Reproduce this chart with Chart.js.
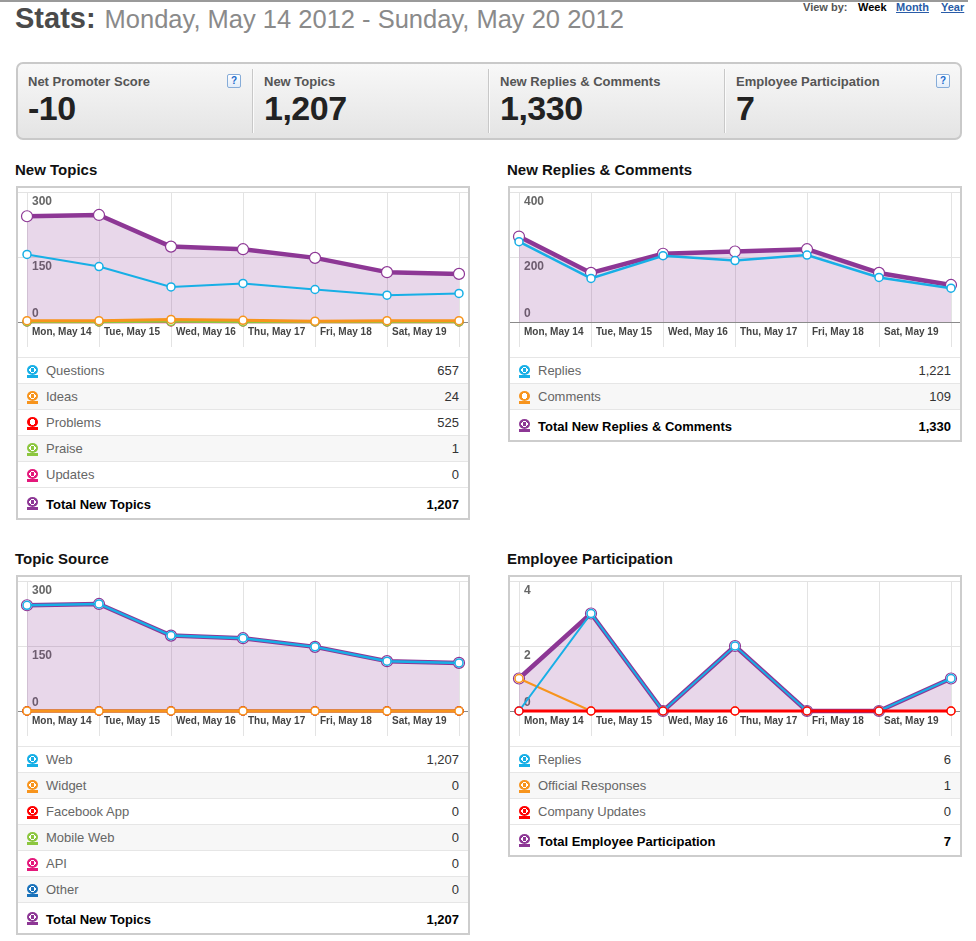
<!DOCTYPE html>
<html>
<head>
<meta charset="utf-8">
<title>Stats</title>
<script src="https://cdn.jsdelivr.net/npm/chart.js@4.4.1/dist/chart.umd.min.js"></script>
<style>
  body { margin:0; width:976px; height:941px; position:relative; background:#fff; overflow:hidden;
         font-family:"Liberation Sans", Arial, Helvetica, sans-serif; }
  #topline { position:absolute; left:0; top:0; width:968px; height:2px; background:#9a9a9a; }
  #title { position:absolute; left:15px; top:4px; line-height:28px; white-space:nowrap; }
  #title b { font-size:29px; color:#4a4a4a; }
  #title span { font-size:25.5px; color:#8a8a8a; margin-left:9px; }
  .vb { position:absolute; top:1px; font-size:11px; font-weight:bold; line-height:13px; color:#555; }
  .vb.on { color:#000; }
  .vb.lnk { color:#2a5ca8; text-decoration:underline; }

  #stats { position:absolute; left:16px; top:62px; width:942px; height:74px; border:2px solid #c9c9c9;
           border-radius:7px; background:linear-gradient(#f8f8f8, #e4e4e4); }
  .slabel { position:absolute; top:10px; font-size:13px; font-weight:bold; color:#555; line-height:16px; white-space:nowrap; }
  .sval { position:absolute; top:26px; font-size:34px; font-weight:bold; color:#222; line-height:36px; letter-spacing:-0.5px; }
  .sdiv { position:absolute; top:5px; width:1px; height:64px; background:#c8c8c8; box-shadow:1px 0 0 #fbfbfb; }
  .help { position:absolute; top:10px; width:12px; height:12px; border:1px solid #86acd8; border-radius:2px;
          background:linear-gradient(#ffffff, #e2edf9); color:#1a6acb; font-size:10px; font-weight:bold;
          line-height:12px; text-align:center; }

  .ptitle { position:absolute; font-size:15px; font-weight:bold; color:#111; line-height:18px; }
  .box { position:absolute; width:450px; border:2px solid #cdcdcd; background:#fff; }
  .cv { position:relative; width:450px; height:169px; }
  .row { position:relative; height:25px; border-top:1px solid #e6e6e6; font-size:13px; line-height:25px; color:#666; }
  .row.alt { background:#f7f7f7; }
  .row .name { position:absolute; left:28px; top:0; }
  .row .val { position:absolute; right:9px; top:0; color:#333; }
  .row.total { height:30px; line-height:30px; font-weight:bold; color:#000; }
  .row.total .name, .row.total .val { top:2px; color:#000; }
  .ic { position:absolute; left:9px; top:7px; width:11px; height:13px; }
  .row.total .ic { top:9px; }
  .ic::before { content:""; position:absolute; left:0; top:0; width:11px; height:10px; border-radius:50%;
                background:radial-gradient(circle closest-side, var(--c) 0 38%, #fff 38% 64%, var(--c) 64%); }
  .ic.off::before { background:radial-gradient(circle closest-side, #fff 0 56%, var(--c) 56%); }
  .ic::after { content:""; position:absolute; left:0; top:10px; width:11px; height:3px; background:var(--c); }
</style>
</head>
<body>
<div id="topline"></div>
<div id="title"><b>Stats:</b><span>Monday, May 14 2012 - Sunday, May 20 2012</span></div>
<span class="vb" style="left:803px">View by:</span>
<span class="vb on" style="left:858px">Week</span>
<span class="vb lnk" style="left:896px">Month</span>
<span class="vb lnk" style="left:941px">Year</span>

<div id="stats"></div>

<div class="ptitle" style="left:15px; top:161px">New Topics</div>
<div class="box" id="b1" style="left:16px; top:186px"><div class="cv"><canvas id="c1"></canvas></div></div>

<div class="ptitle" style="left:507px; top:161px">New Replies &amp; Comments</div>
<div class="box" id="b2" style="left:508px; top:186px"><div class="cv"><canvas id="c2"></canvas></div></div>

<div class="ptitle" style="left:15px; top:550px">Topic Source</div>
<div class="box" id="b3" style="left:16px; top:575px"><div class="cv"><canvas id="c3"></canvas></div></div>

<div class="ptitle" style="left:507px; top:550px">Employee Participation</div>
<div class="box" id="b4" style="left:508px; top:575px"><div class="cv"><canvas id="c4"></canvas></div></div>

<script>
// days of the week shown on the x axis (Sunday has no label)
var days = ['Mon, May 14', 'Tue, May 15', 'Wed, May 16', 'Thu, May 17', 'Fri, May 18', 'Sat, May 19', 'Sun, May 20'];

// summary boxes
var statNames = ['Net Promoter Score', 'New Topics', 'New Replies & Comments', 'Employee Participation'];
var statValues = ['-10', '1,207', '1,330', '7'];

// New Topics, per day
var topicQuestions = [156, 128, 81, 89, 75, 62, 66];
var topicIdeas = [3, 3, 6, 4, 2, 3, 3];
var topicPraise = [0, 0, 1, 0, 0, 0, 0];
var topicUpdates = [0, 0, 0, 0, 0, 0, 0];
var topicTotal = [244, 247, 174, 168, 148, 115, 111];
var topicNames = ['Questions', 'Ideas', 'Problems', 'Praise', 'Updates'];
var topicCounts = [657, 24, 525, 1, 0];
var topicShown = [true, true, false, true, true];

// New Replies & Comments, per day
var repliesDaily = [247, 134, 204, 189, 206, 137, 104];
var repliesTotal = [263, 151, 210, 217, 224, 151, 114];
var replyNames = ['Replies', 'Comments'];
var replyCounts = [1221, 109];
var replyShown = [true, false];

// Topic Source, per day
var srcWeb = [244, 247, 174, 168, 148, 115, 111];
var srcWidget = [0, 0, 0, 0, 0, 0, 0];
var srcFacebook = [0, 0, 0, 0, 0, 0, 0];
var srcMobile = [0, 0, 0, 0, 0, 0, 0];
var srcApi = [0, 0, 0, 0, 0, 0, 0];
var srcOther = [0, 0, 0, 0, 0, 0, 0];
var srcTotal = [244, 247, 174, 168, 148, 115, 111];
var srcNames = ['Web', 'Widget', 'Facebook App', 'Mobile Web', 'API', 'Other'];
var srcCounts = [1207, 0, 0, 0, 0, 0];

// Employee Participation, per day
var empReplies = [0, 3, 0, 2, 0, 0, 1];
var empOfficial = [1, 0, 0, 0, 0, 0, 0];
var empCompany = [0, 0, 0, 0, 0, 0, 0];
var empTotal = [1, 3, 0, 2, 0, 0, 1];
var empNames = ['Replies', 'Official Responses', 'Company Updates'];
var empCounts = [6, 1, 0];

var C = {
    blue: '#17afe6', orange: '#f7941d', red: '#ff0000', green: '#8cc63f',
    pink: '#e4187b', navy: '#1b73bb', purple: '#8d3795'
};
var FONT = '"Liberation Sans", Arial, Helvetica, sans-serif';

// summary strip
var stats = document.getElementById('stats');
statNames.forEach(function (n, i) {
    var x = 10 + i * 236;
    stats.insertAdjacentHTML('beforeend',
        '<div class="slabel" style="left:' + x + 'px">' + n.replace('&', '&amp;') + '</div>' +
        '<div class="sval" style="left:' + x + 'px">' + statValues[i] + '</div>');
    if (i > 0) stats.insertAdjacentHTML('beforeend', '<div class="sdiv" style="left:' + (i * 236 - 2) + 'px"></div>');
});
stats.insertAdjacentHTML('beforeend', '<div class="help" style="left:209px">?</div><div class="help" style="left:918px">?</div>');

function fmt(n) { return n.toLocaleString('en-US'); }

function legend(boxId, names, counts, colors, shown, totalName, totalCount) {
    var box = document.getElementById(boxId);
    var html = '';
    names.forEach(function (n, i) {
        var off = shown && !shown[i] ? ' off' : '';
        html += '<div class="row' + (i % 2 ? ' alt' : '') + '"><span class="ic' + off + '" style="--c:' + colors[i] + '"></span>' +
            '<span class="name">' + n + '</span><span class="val">' + fmt(counts[i]) + '</span></div>';
    });
    html += '<div class="row total"><span class="ic" style="--c:' + C.purple + '"></span>' +
        '<span class="name">' + totalName + '</span><span class="val">' + fmt(totalCount) + '</span></div>';
    box.insertAdjacentHTML('beforeend', html);
}

function sum(a) { return a.reduce(function (s, v) { return s + v; }, 0); }

legend('b1', topicNames, topicCounts, [C.blue, C.orange, C.red, C.green, C.pink], topicShown, 'Total New Topics', sum(topicCounts));
legend('b2', replyNames, replyCounts, [C.blue, C.orange], replyShown, 'Total New Replies &amp; Comments', sum(replyCounts));
legend('b3', srcNames, srcCounts, [C.blue, C.orange, C.red, C.green, C.pink, C.navy], null, 'Total New Topics', sum(srcCounts));
legend('b4', empNames, empCounts, [C.blue, C.orange, C.red], null, 'Total Employee Participation', sum(empCounts));

function pts(values) {
    return values.map(function (v, i) { return { x: i, y: v }; });
}

function line(values, color, width) {
    return {
        data: pts(values), borderColor: color, borderWidth: width || 2.5,
        pointRadius: 4, pointBorderWidth: 1.5, pointBackgroundColor: '#fff', pointBorderColor: color,
        fill: false, tension: 0, clip: false
    };
}

function total(values) {
    return {
        data: pts(values), borderColor: C.purple, borderWidth: 4.5, borderJoinStyle: 'round',
        pointRadius: 5.5, pointBorderWidth: 1.2, pointBackgroundColor: '#fff', pointBorderColor: C.purple,
        fill: 'origin', backgroundColor: 'rgba(141, 55, 149, 0.2)', tension: 0, clip: false
    };
}

// value labels sit inside the plot, under the grid line (the zero label above it)
var yLabels = {
    id: 'yLabels',
    beforeDatasetsDraw: function (chart) {
        var ctx = chart.ctx, y = chart.scales.y;
        ctx.save();
        ctx.font = 'bold 12px ' + FONT;
        ctx.fillStyle = '#666';
        ctx.textAlign = 'left';
        ctx.textBaseline = 'middle';
        y.ticks.forEach(function (t) {
            var py = y.getPixelForValue(t.value);
            ctx.fillText(String(t.value), chart.chartArea.left + 14, t.value === 0 ? py - 8 : py + 10);
        });
        ctx.restore();
    }
};

function makeChart(id, yMax, yStep, datasets) {
    return new Chart(document.getElementById(id), {
        type: 'line',
        data: { datasets: datasets },
        plugins: [yLabels],
        options: {
            responsive: true,
            maintainAspectRatio: false,
            animation: false,
            events: [],
            layout: { autoPadding: false, padding: { top: 4, left: 0, right: 0, bottom: 0 } },
            plugins: { legend: { display: false }, tooltip: { enabled: false } },
            scales: {
                x: {
                    type: 'linear', min: -0.125, max: 6.125,
                    afterBuildTicks: function (s) { s.ticks = days.map(function (d, i) { return { value: i }; }); },
                    afterFit: function (s) { s.height = 35; },
                    grid: { color: '#e3e3e3', tickLength: 25, drawTicks: true },
                    border: { display: true, color: '#8a8a8a', width: 1 },
                    ticks: {
                        stepSize: 1, autoSkip: false, maxRotation: 0, align: 'start', labelOffset: 5, padding: -21,
                        color: '#444', font: { family: FONT, size: 10, weight: 'bold' },
                        callback: function (v, i) { return i < 6 ? days[i] : ''; }
                    }
                },
                y: {
                    min: 0, max: yMax,
                    afterFit: function (s) { s.width = 0; },
                    grid: { color: '#e3e3e3', drawTicks: false },
                    border: { display: false },
                    ticks: { stepSize: yStep, display: false }
                }
            }
        }
    });
}

makeChart('c1', 300, 150, [
    line(topicIdeas, C.orange, 3),
    line(topicPraise, C.green),
    line(topicUpdates, C.pink),
    line(topicQuestions, C.blue, 2),
    total(topicTotal)
]);
makeChart('c2', 400, 200, [
    line(repliesDaily, C.blue),
    total(repliesTotal)
]);
makeChart('c3', 300, 150, [
    line(srcWidget, C.orange, 3),
    line(srcFacebook, C.red),
    line(srcMobile, C.green),
    line(srcApi, C.pink),
    line(srcOther, C.navy),
    line(srcWeb, C.blue),
    total(srcTotal)
]);
makeChart('c4', 4, 2, [
    line(empCompany, C.red, 3),
    line(empReplies, C.blue, 2),
    line(empOfficial, C.orange, 2),
    total(empTotal)
]);
</script>
</body>
</html>
